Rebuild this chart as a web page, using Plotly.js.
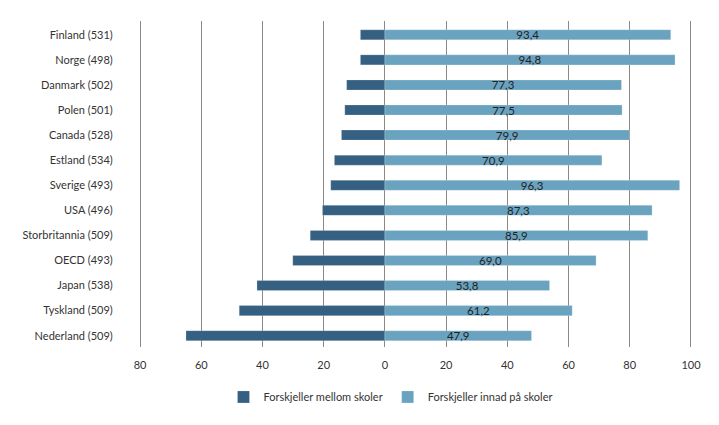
<!DOCTYPE html>
<html>
<head>
<meta charset="utf-8">
<script src="https://cdn.plot.ly/plotly-3.0.1.min.js"></script>
<style>html,body{margin:0;padding:0;background:#fff;}#chart{width:719px;height:425px;}</style>
</head>
<body>
<div id="chart"></div>
<script>
const countries = ["Finland (531)","Norge (498)","Danmark (502)","Polen (501)","Canada (528)","Estland (534)","Sverige (493)","USA (496)","Storbritannia (509)","OECD (493)","Japan (538)","Tyskland (509)","Nederland (509)"];
const betweenSchools = [8.0, 8.0, 12.5, 13.1, 14.2, 16.5, 17.7, 20.4, 24.4, 30.1, 41.8, 47.6, 65.0];
const withinSchools = [93.4, 94.8, 77.3, 77.5, 79.9, 70.9, 96.3, 87.3, 85.9, 69.0, 53.8, 61.2, 47.9];
const tickValues = [-80, -60, -40, -20, 0, 20, 40, 60, 80, 100];
const tickLabels = ["80", "60", "40", "20", "0", "20", "40", "60", "80", "100"];
const seriesNames = ["Forskjeller mellom skoler", "Forskjeller innad på skoler"];

const fontFam = "Lato, 'Open Sans', sans-serif";
const traces = [
  {
    type: "bar", orientation: "h", name: seriesNames[0],
    y: countries, x: betweenSchools.map(v => -v),
    width: 0.4,
    marker: {color: "#366082", line: {color: "rgba(255,255,255,0.4)", width: 0.5}},
    hoverinfo: "skip"
  },
  {
    type: "bar", orientation: "h", name: seriesNames[1],
    y: countries, x: withinSchools,
    width: 0.4,
    text: withinSchools.map(v => v.toFixed(1).replace(".", ",")),
    textposition: "inside", insidetextanchor: "middle", constraintext: "none",
    textfont: {color: "#222", size: 11.5, family: fontFam},
    marker: {color: "#6aa3c0", line: {color: "rgba(255,255,255,0.4)", width: 0.5}},
    hoverinfo: "skip"
  }
];
const layout = {
  width: 719, height: 425,
  margin: {l: 137, r: 25, t: 21, b: 78},
  barmode: "relative",
  uniformtext: {mode: false},
  font: {family: fontFam, size: 11, color: "#333"},
  paper_bgcolor: "#fff", plot_bgcolor: "#fff",
  showlegend: true,
  legend: {orientation: "h", x: 0.456, xanchor: "center", y: -0.153, yanchor: "middle",
           font: {size: 11, color: "#333"}, traceorder: "normal", itemwidth: 30},
  xaxis: {
    range: [-81, 101], tickvals: tickValues, ticktext: tickLabels,
    showgrid: true, gridcolor: "#8c8884", gridwidth: 1,
    zeroline: true, zerolinecolor: "#8c8884", zerolinewidth: 1,
    showline: false, ticks: "outside", ticklen: 8, tickcolor: "rgba(0,0,0,0)",
    tickfont: {size: 11, color: "#333"}
  },
  yaxis: {
    type: "category", range: [12.45, -0.55],
    showgrid: false, zeroline: false, showline: false,
    ticks: "outside", ticklen: 21, tickcolor: "rgba(0,0,0,0)",
    tickfont: {size: 11, color: "#333"}
  }
};
Plotly.newPlot("chart", traces, layout, {displayModeBar: false, staticPlot: true});
</script>
</body>
</html>
